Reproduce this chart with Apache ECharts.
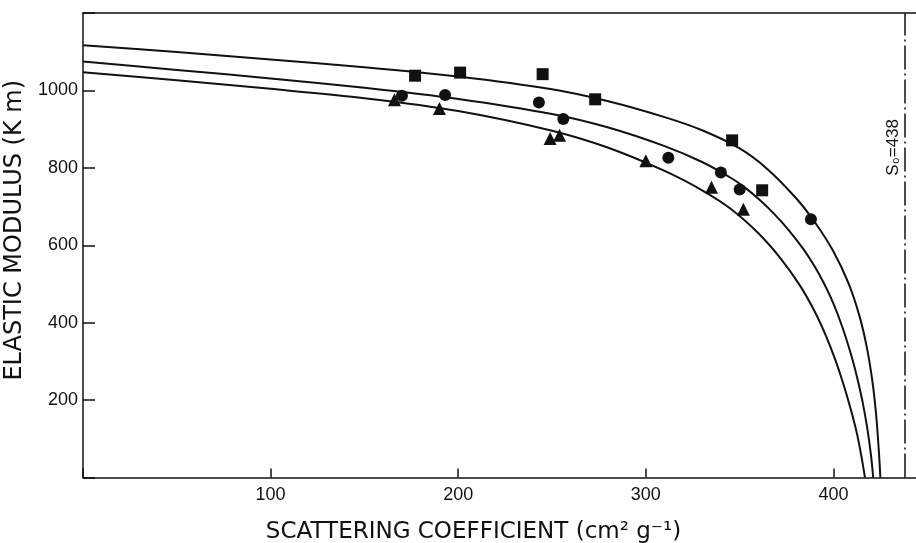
<!DOCTYPE html>
<html><head><meta charset="utf-8">
<script src="https://cdn.jsdelivr.net/npm/echarts@6/dist/echarts.min.js"></script>
<style>html,body{margin:0;padding:0;background:#fff}#c{width:916px;height:543px}</style>
</head><body><div id="c"></div>
<script>
const xTicks = [100, 200, 300, 400];
const yTicks = [200, 400, 600, 800, 1000];
const squares = [[177,1038],[201,1046],[245,1042],[273,977],[346,871],[362,742]];
const circles = [[170,986],[193,988],[243,969],[256,926],[312,826],[340,788],[350,744],[388,667]];
const triangles = [[166,976],[190,953],[249,876],[254,884],[300,818],[335,750],[352,693]];
const curveTop = [[0,1117],[50,1099],[100,1080],[150,1060],[200,1036],[250,1003],[280,972],[310,931],[330,897],[350,850],[365,796],[380,722],[390,660],[400,584],[408,502],[414,415],[418,331],[421,240],[423,148],[424.5,45],[425,0]];
const curveMid = [[0,1075],[50,1053],[100,1031],[150,1007],[200,978],[250,939],[280,904],[310,856],[330,815],[345,775],[352,752],[360,720],[368,683],[376,640],[384,590],[390,545],[395,501],[400,449],[405,385],[409,324],[412.5,261],[415.5,196],[418,128],[420,58],[421.2,0]];
const curveBottom = [[0,1047],[50,1026],[100,1004],[150,980],[200,947],[250,896],[280,852],[310,792],[330,742],[345,695],[360,631],[372,565],[382,497],[390,429],[396,366],[401,304],[405,246],[409,180],[412.5,114],[415,52],[416.8,0]];
const s0 = 438;
const s0Label = 'S₀=438';
const xTitle = 'SCATTERING COEFFICIENT (cm² g⁻¹)';
const yTitle = 'ELASTIC MODULUS (K m)';

const ink = '#111';
const chart = echarts.init(document.getElementById('c'), null, {renderer:'canvas'});
const curveStyle = {color: ink, width: 2};
function curve(data, extra) {
  return Object.assign({type:'line', data, symbol:'none', smooth:0.3,
    lineStyle:curveStyle, itemStyle:{color:ink}, z:2, silent:true}, extra||{});
}
function pts(data, sym, size) {
  return {type:'scatter', data, symbol:sym, symbolSize:size, itemStyle:{color:ink, opacity:1}, z:5, silent:true};
}
chart.setOption({
  animation:false,
  backgroundColor:'#fff',
  grid:{left:83, right:0, top:13, bottom:65.5, outerBoundsMode:'none', containLabel:false},
  xAxis:[{
    type:'value', min:0, max:444, interval:100,
    axisLine:{onZero:false, lineStyle:{color:ink, width:1.5}},
    axisTick:{inside:true, length:9, lineStyle:{color:ink, width:1.5}},
    axisLabel:{formatter:v => xTicks.includes(v) ? String(v) : '', fontSize:18, color:ink, fontFamily:'Liberation Sans', margin:9, showMaxLabel:false},
    splitLine:{show:false},
    name:xTitle, nameLocation:'middle', nameGap:43,
    nameTextStyle:{fontSize:23, color:ink, fontFamily:'DejaVu Sans', padding:[0,52,0,0]}
  },{
    type:'value', position:'top', min:0, max:444,
    axisLine:{show:true, onZero:false, lineStyle:{color:ink, width:1.5}},
    axisTick:{show:false}, axisLabel:{show:false}, splitLine:{show:false}
  }],
  yAxis:{
    type:'value', min:0, max:1200, interval:200,
    axisLine:{show:true, onZero:false, lineStyle:{color:ink, width:1.5}},
    axisTick:{inside:true, length:12, lineStyle:{color:ink, width:1.5}},
    axisLabel:{formatter:v => yTicks.includes(v) ? String(v) : '', fontSize:18, color:ink, fontFamily:'Liberation Sans', margin:5},
    splitLine:{show:false},
    name:yTitle, nameLocation:'middle', nameGap:51,
    nameTextStyle:{fontSize:24, color:ink, fontFamily:'DejaVu Sans', padding:[0,0,0,30]}
  },
  series:[
    curve(curveTop, {markLine:{symbol:'none', silent:true, label:{show:false},
      lineStyle:{color:ink, width:1.5, type:[24,4,2,4]}, data:[{xAxis:s0}]}}),
    curve(curveMid),
    curve(curveBottom),
    pts(squares, 'rect', 12),
    pts(circles, 'circle', 12),
    pts(triangles, 'triangle', 13)
  ]
});
const p = chart.convertToPixel({xAxisIndex:0, yAxisIndex:0}, [s0 - 6, 853]);
chart.setOption({graphic:[{type:'text', x:p[0], y:p[1], rotation:Math.PI/2,
  style:{text:s0Label, fontSize:17, fontFamily:'Liberation Sans', fill:ink, align:'center', verticalAlign:'middle'}}]});
</script></body></html>
